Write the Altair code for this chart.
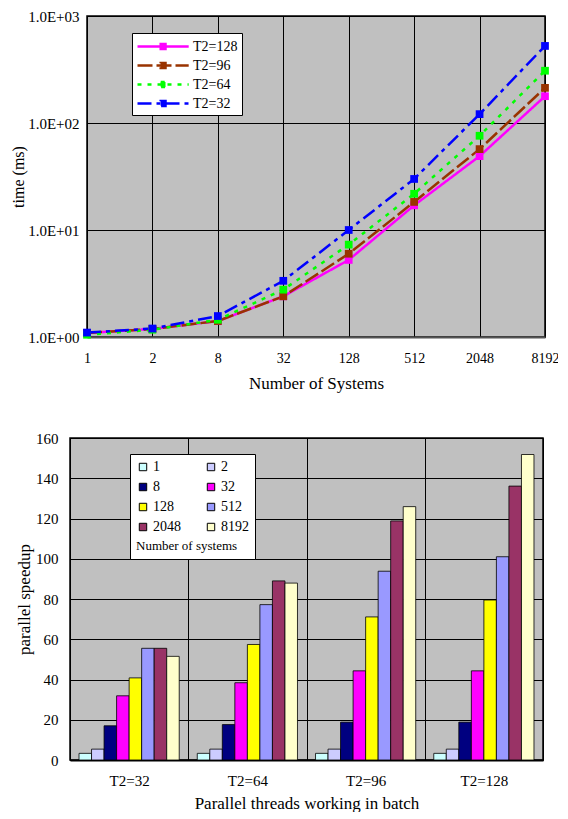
import altair as alt
import pandas as pd

# ---------- data: top chart (time, log scale) ----------
systems = ["1", "2", "8", "32", "128", "512", "2048", "8192"]
series_names = ["T2=128", "T2=96", "T2=64", "T2=32"]
time_t128 = [1.09, 1.19, 1.41, 2.40, 5.25, 17.0, 49.0, 178.0]
time_t96 = [1.09, 1.19, 1.41, 2.40, 6.00, 18.3, 57.0, 213.0]
time_t64 = [1.05, 1.17, 1.45, 2.77, 7.30, 21.8, 76.0, 308.0]
time_t32 = [1.10, 1.20, 1.57, 3.35, 10.0, 30.0, 121.0, 525.0]
line_colors = ["#ff00ff", "#993300", "#00ff00", "#0000ff"]
line_dashes = [[1, 0], [15, 4], [4, 6], [14, 5, 4, 5]]
y_tick_values = [1, 10, 100, 1000]

# ---------- data: bottom chart (speedup bars) ----------
groups = ["T2=32", "T2=64", "T2=96", "T2=128"]
speedup_t32 = [3.3, 5.4, 17.0, 31.9, 40.8, 55.5, 55.5, 51.5]
speedup_t64 = [3.3, 5.4, 17.6, 38.4, 57.4, 77.2, 89.0, 87.9]
speedup_t96 = [3.3, 5.4, 18.8, 44.3, 71.1, 93.8, 118.8, 125.9]
speedup_t128 = [3.3, 5.4, 18.8, 44.3, 79.5, 101.0, 136.1, 151.8]
bar_colors = ["#ccffff", "#ccccff", "#000080", "#ff00ff",
              "#ffff00", "#9999ff", "#993366", "#ffffcc"]
# legend reading order (two columns, read row by row)
legend_order = ["1", "8", "128", "2048", "2", "32", "512", "8192"]

FONT = "Liberation Serif, Times New Roman, serif"

rows = []
for name, vals in zip(series_names, [time_t128, time_t96, time_t64, time_t32]):
    for s, v in zip(systems, vals):
        rows.append({"series": name, "systems": s, "time": v})
df_top = pd.DataFrame(rows)

rows = []
for g, vals in zip(groups, [speedup_t32, speedup_t64, speedup_t96, speedup_t128]):
    for s, v in zip(systems, vals):
        rows.append({"group": g, "systems": s, "speedup": v})
df_bot = pd.DataFrame(rows)

color_of = dict(zip(systems, bar_colors))
fill_range = [color_of[s] for s in legend_order]

# line with a square marker, drawn to the right of the nominal symbol box
legend_symbol = "M-1,0H5.4M1.9,-0.3H2.5V0.3H1.9Z"
top_legend = alt.Legend(
    title=None, orient="none", legendX=124, legendY=17,
    symbolType=legend_symbol, symbolSize=256, symbolStrokeWidth=2.5,
    labelFont=FONT, labelFontSize=14, labelColor="black", labelOffset=38,
    fillColor="white", strokeColor="black", padding=4, rowPadding=2,
    symbolOpacity=1,
)

x_top = alt.X(
    "systems:N", sort=systems,
    scale=alt.Scale(type="point", padding=0),
    axis=alt.Axis(title="Number of Systems", labelAngle=0, grid=True,
                  gridColor="black", gridOpacity=1, ticks=False,
                  domainColor="#555555", domainWidth=2,
                  labelPadding=14, titlePadding=10,
                  labelFont=FONT, labelFontSize=14, labelColor="black",
                  titleFont=FONT, titleFontSize=17, titleFontWeight="normal",
                  titleColor="black"),
)
y_top = alt.Y(
    "time:Q",
    scale=alt.Scale(type="log", domain=[1, 1000], nice=False),
    axis=alt.Axis(values=y_tick_values, title="time (ms)",
                  labelExpr="'1.0E+0' + round(log(datum.value) / LN10)",
                  grid=True, gridColor="black", gridOpacity=1, ticks=False,
                  domainColor="black", labelPadding=8, titlePadding=1,
                  labelFont=FONT, labelFontSize=15, labelColor="black",
                  titleFont=FONT, titleFontSize=16, titleFontWeight="normal",
                  titleColor="black"),
)
color_top = alt.Color("series:N", sort=series_names,
                      scale=alt.Scale(domain=series_names, range=line_colors),
                      legend=top_legend)
dash_top = alt.StrokeDash("series:N", sort=series_names,
                          scale=alt.Scale(domain=series_names, range=line_dashes),
                          legend=top_legend)

lines = alt.Chart(df_top).mark_line(strokeWidth=2.5).encode(
    x=x_top, y=y_top, color=color_top, strokeDash=dash_top,
)
points = alt.Chart(df_top).mark_square(size=60, opacity=1).encode(
    x=x_top, y=y_top, color=color_top,
)
top = alt.layer(lines, points).properties(width=458, height=321)

bottom_legend = alt.Legend(
    title="Number of systems", titleOrient="bottom", columns=2,
    orient="none", legendX=122, legendY=16,
    symbolType="square", symbolSize=55, symbolStrokeColor="black",
    symbolStrokeWidth=1, labelFont=FONT, labelFontSize=14, labelColor="black",
    labelOffset=3, columnPadding=23, rowPadding=6,
    titleFont=FONT, titleFontSize=13, titleFontWeight="normal",
    titleColor="black", titlePadding=6,
    fillColor="white", strokeColor="black", padding=6,
)
bottom = alt.Chart(df_bot).mark_bar(stroke="black", strokeWidth=0.8).encode(
    x=alt.X("group:N", sort=groups,
            scale=alt.Scale(paddingInner=0, paddingOuter=0),
            axis=alt.Axis(title="Parallel threads working in batch",
                          labelAngle=0, grid=True, tickBand="extent",
                          gridColor="black", gridOpacity=1, ticks=False,
                          domainColor="black", domainWidth=2,
                          labelPadding=13, titlePadding=7,
                          labelFont=FONT, labelFontSize=15, labelColor="black",
                          titleFont=FONT, titleFontSize=17,
                          titleFontWeight="normal", titleColor="black")),
    xOffset=alt.XOffset("systems:N", sort=systems,
                        scale=alt.Scale(domain=systems, paddingInner=0,
                                        paddingOuter=0.72)),
    y=alt.Y("speedup:Q", scale=alt.Scale(domain=[0, 160], nice=False),
            axis=alt.Axis(values=list(range(0, 161, 20)),
                          title="parallel speedup", grid=True,
                          gridColor="black", gridOpacity=1, ticks=False,
                          domainColor="black", labelPadding=12,
                          titlePadding=2,
                          labelFont=FONT, labelFontSize=15, labelColor="black",
                          titleFont=FONT, titleFontSize=17,
                          titleFontWeight="normal", titleColor="black")),
    fill=alt.Fill("systems:N",
                  scale=alt.Scale(domain=legend_order, range=fill_range),
                  legend=bottom_legend),
).properties(width=473, height=322)


def spacer():
    return alt.Chart(pd.DataFrame({"v": []})).mark_point(opacity=0).encode(
        x=alt.value(0), y=alt.value(0)
    ).properties(width=1, height=1,
                 view=alt.ViewBackground(fill=None, stroke=None))


top_row = alt.hconcat(spacer(), top, spacing=0)
bottom_row = alt.hconcat(spacer(), bottom, spacing=5)

chart = alt.vconcat(top_row, bottom_row, spacing=38).resolve_scale(
    color="independent", fill="independent", strokeDash="independent",
    x="independent", y="independent"
).properties(
    padding={"left": 0, "top": 0, "right": -2, "bottom": 0},
    background="white",
).configure_view(
    fill="#c0c0c0", stroke="black", strokeWidth=1.5,
)

chart.save("out.html", embed_options={"renderer": "svg", "actions": False})
